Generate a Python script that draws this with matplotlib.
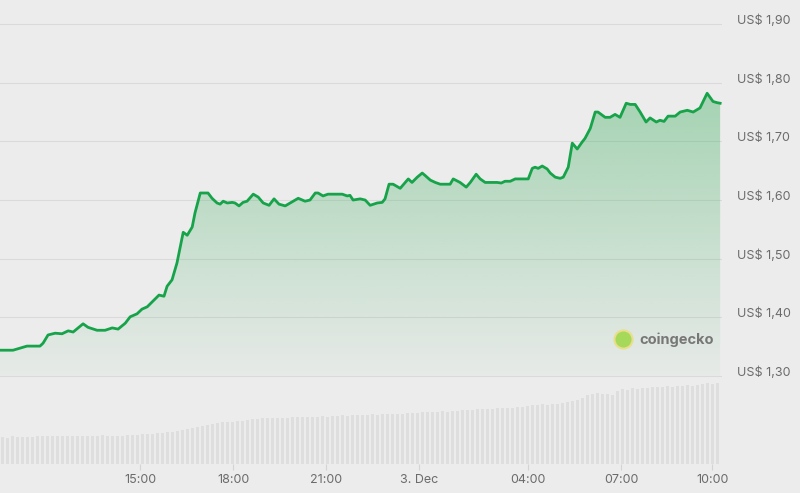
import matplotlib.pyplot as plt
import numpy as np
from matplotlib.patches import PathPatch

# price line, hours counted from 00:00 on 2 Dec (24 = 3 Dec 00:00)
hours = [10.48, 10.90, 11.35, 11.77, 11.87, 12.03, 12.26, 12.48, 12.68, 12.84,
         13.16, 13.32, 13.61, 13.87, 14.10, 14.29, 14.52, 14.68, 14.90, 15.06,
         15.23, 15.42, 15.61, 15.77, 15.87, 16.03, 16.19, 16.39, 16.52, 16.68,
         16.77, 16.94, 17.19, 17.32, 17.48, 17.58, 17.68, 17.81, 17.97, 18.06,
         18.19, 18.32, 18.45, 18.65, 18.81, 18.97, 19.16, 19.32, 19.48, 19.68,
         19.84, 20.10, 20.32, 20.48, 20.65, 20.74, 20.90, 21.06, 21.36, 21.52,
         21.68, 21.77, 21.87, 22.10, 22.26, 22.42, 22.65, 22.81, 22.90, 23.03,
         23.16, 23.39, 23.55, 23.65, 23.77, 23.94, 24.10, 24.19, 24.36, 24.52,
         24.68, 24.84, 25.00, 25.10, 25.32, 25.52, 25.65, 25.84, 25.97, 26.13,
         26.29, 26.52, 26.65, 26.77, 26.94, 27.10, 27.26, 27.52, 27.65, 27.74,
         27.84, 27.97, 28.13, 28.23, 28.39, 28.55, 28.65, 28.81, 28.94, 29.10,
         29.26, 29.35, 29.52, 29.68, 29.77, 30.00, 30.16, 30.32, 30.48, 30.68,
         30.81, 30.97, 31.13, 31.32, 31.45, 31.65, 31.77, 31.90, 32.03, 32.26,
         32.42, 32.65, 32.84, 33.06, 33.29, 33.48, 33.61, 33.71]
prices = [1.344, 1.344, 1.351, 1.351, 1.356, 1.370, 1.373, 1.372, 1.377, 1.375,
          1.389, 1.383, 1.378, 1.378, 1.382, 1.380, 1.390, 1.401, 1.406, 1.414,
          1.418, 1.428, 1.438, 1.436, 1.453, 1.464, 1.493, 1.545, 1.540, 1.554,
          1.578, 1.612, 1.612, 1.603, 1.595, 1.593, 1.598, 1.595, 1.596, 1.595,
          1.590, 1.596, 1.598, 1.610, 1.605, 1.595, 1.591, 1.602, 1.593, 1.590,
          1.595, 1.603, 1.598, 1.600, 1.612, 1.612, 1.607, 1.610, 1.610, 1.610,
          1.607, 1.608, 1.600, 1.602, 1.600, 1.591, 1.595, 1.596, 1.602, 1.627,
          1.627, 1.620, 1.630, 1.636, 1.630, 1.639, 1.646, 1.642, 1.634, 1.630,
          1.627, 1.627, 1.627, 1.636, 1.630, 1.622, 1.630, 1.644, 1.636, 1.630,
          1.630, 1.630, 1.629, 1.632, 1.632, 1.636, 1.636, 1.636, 1.654, 1.656,
          1.654, 1.658, 1.653, 1.646, 1.639, 1.637, 1.639, 1.656, 1.697, 1.687,
          1.699, 1.705, 1.722, 1.750, 1.750, 1.741, 1.741, 1.746, 1.741, 1.765,
          1.763, 1.763, 1.750, 1.733, 1.740, 1.733, 1.736, 1.734, 1.743, 1.743,
          1.750, 1.753, 1.750, 1.757, 1.782, 1.768, 1.766, 1.765]

# volume bars (one every ~10 min), arbitrary units
volumes = [1.00, 0.98, 1.02, 1.00, 0.99, 1.01, 1.00, 1.03, 1.02, 1.05, 1.03, 1.04,
           1.05, 1.03, 1.04, 1.02, 1.04, 1.05, 1.03, 1.04, 1.06, 1.04, 1.05, 1.04,
           1.05, 1.07, 1.06, 1.08, 1.11, 1.10, 1.12, 1.15, 1.14, 1.17, 1.19, 1.22,
           1.26, 1.30, 1.33, 1.37, 1.41, 1.46, 1.48, 1.52, 1.55, 1.57, 1.56, 1.59,
           1.60, 1.62, 1.65, 1.68, 1.70, 1.69, 1.71, 1.70, 1.72, 1.70, 1.73, 1.74,
           1.73, 1.75, 1.74, 1.76, 1.77, 1.75, 1.78, 1.79, 1.80, 1.79, 1.81, 1.82,
           1.81, 1.83, 1.84, 1.83, 1.85, 1.84, 1.86, 1.87, 1.85, 1.89, 1.88, 1.90,
           1.92, 1.91, 1.93, 1.92, 1.95, 1.94, 1.97, 1.96, 2.00, 1.99, 2.02, 2.04,
           2.03, 2.05, 2.04, 2.07, 2.06, 2.08, 2.07, 2.10, 2.13, 2.15, 2.19, 2.18,
           2.21, 2.20, 2.23, 2.22, 2.26, 2.30, 2.33, 2.36, 2.45, 2.55, 2.60, 2.63,
           2.60, 2.58, 2.56, 2.70, 2.78, 2.76, 2.80, 2.79, 2.83, 2.81, 2.85, 2.84,
           2.86, 2.88, 2.87, 2.90, 2.89, 2.92, 2.91, 2.93, 2.97, 3.00, 2.98, 3.00]
vol_step = 0.1613
vol_hours = 10.56 + vol_step * np.arange(len(volumes))

price_ticks = [1.30, 1.40, 1.50, 1.60, 1.70, 1.80, 1.90]
price_labels = ["US$ 1,30", "US$ 1,40", "US$ 1,50", "US$ 1,60",
                "US$ 1,70", "US$ 1,80", "US$ 1,90"]
time_ticks = [15, 18, 21, 24, 27.52, 30.52, 33.45]
time_labels = ["15:00", "18:00", "21:00", "3. Dec", "04:00", "07:00", "10:00"]

bg = "#ececec"
green = "#16a34a"
plt.rcParams["font.family"] = ["Inter", "DejaVu Sans"]

fig = plt.figure(figsize=(8, 4.93), dpi=100, facecolor=bg)
ax = fig.add_axes([0, 0.0588, 0.9025, 0.9412])
axv = ax.twinx()
ax.set_zorder(2)
axv.set_zorder(1)
ax.patch.set_visible(False)
axv.patch.set_facecolor(bg)

x0, x1 = 10.48, 33.77

# volume
axv.bar(vol_hours, volumes, width=vol_step * 0.78, color="#dedede", linewidth=0)
axv.set_ylim(0, 17.2)
axv.set_yticks([])
for s in axv.spines.values():
    s.set_visible(False)

# gradient fill under the price line
poly = ax.fill_between(hours, prices, 1.30, color="none", linewidth=0)
clip = PathPatch(poly.get_paths()[0], transform=ax.transData,
                 facecolor="none", edgecolor="none")
ax.add_patch(clip)
grad = np.zeros((256, 1, 4))
grad[:, 0, :3] = np.array([61, 174, 94]) / 255
grad[:, 0, 3] = np.linspace(0.03, 0.42, 256)
im = ax.imshow(grad, extent=[x0, x1, 1.30, 1.80], aspect="auto",
               origin="lower", zorder=1)
im.set_clip_path(clip)

ax.plot(hours, prices, color=green, linewidth=2, zorder=3,
        solid_joinstyle="round")

ax.set_xlim(x0, x1)
ax.set_ylim(1.150, 1.941)
axv.set_xlim(x0, x1)

for t in price_ticks:
    ax.axhline(t, color="#dadada", linewidth=0.8, zorder=0.5)

ax.yaxis.tick_right()
ax.set_yticks(price_ticks)
ax.set_yticklabels(price_labels)
ax.tick_params(axis="y", length=0, pad=11, labelsize=9, labelcolor="#6b6b6b")
for lbl in ax.get_yticklabels():
    lbl.set_verticalalignment("baseline")

ax.set_xticks(time_ticks)
ax.set_xticklabels(time_labels)
ax.tick_params(axis="x", length=4, width=0.8, color="#d4d4d4", pad=3,
               labelsize=9, labelcolor="#6b6b6b")
for s in ax.spines.values():
    s.set_visible(False)

# watermark
ax.scatter([0.8635], [0.269], s=170, color="#a6d85a", edgecolor="#e8df8a",
           linewidth=1.5, transform=ax.transAxes, zorder=4)
ax.text(0.885, 0.268, "coingecko", transform=ax.transAxes, fontsize=10.5,
        fontweight="bold", color="#777777", va="center", ha="left", zorder=4)

fig.savefig("out.png", dpi=100, facecolor=bg)
